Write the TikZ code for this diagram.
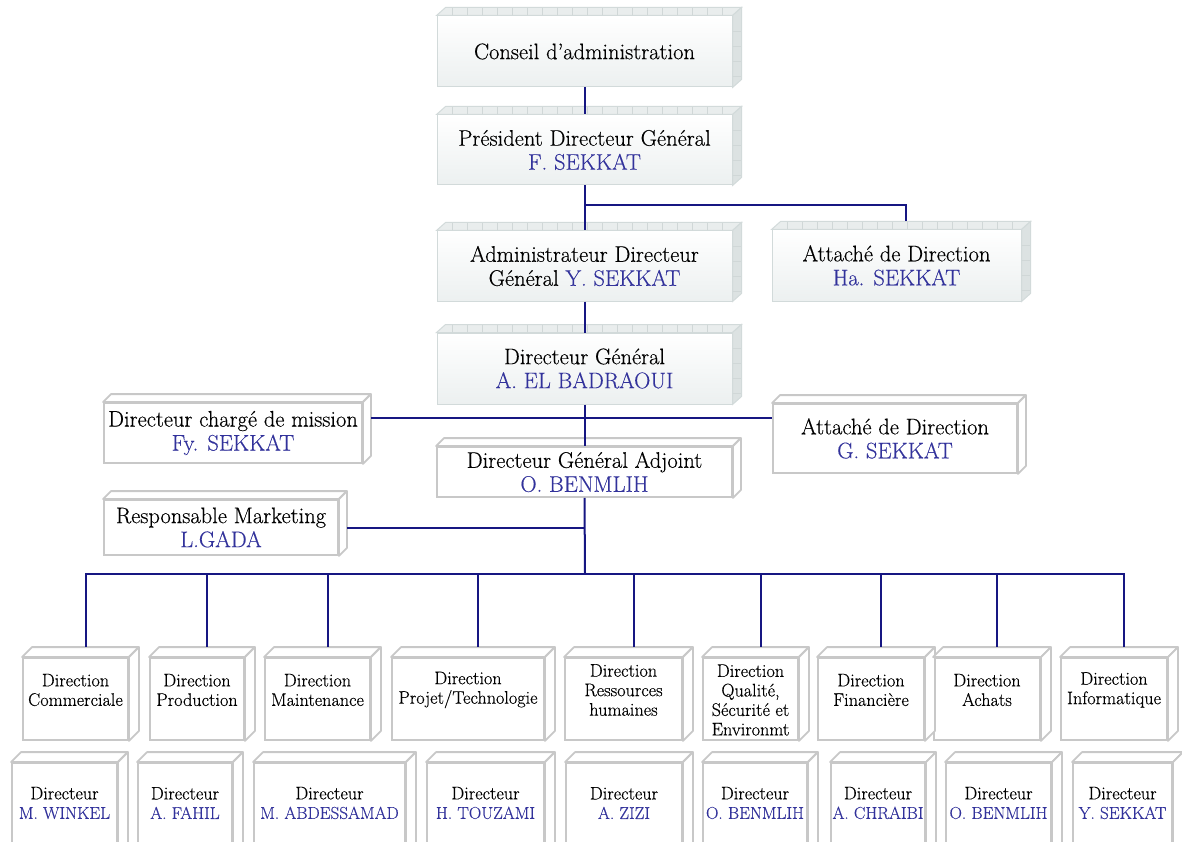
\documentclass[tikz,border=0pt]{standalone}
\usepackage{fontspec}
\setmainfont{Latin Modern Roman}[FakeBold=0.35]
\usetikzlibrary{calc}
\definecolor{navy}{RGB}{22,22,130}
\definecolor{namec}{RGB}{50,50,155}
\definecolor{gbord}{RGB}{200,200,200}
\definecolor{tbord}{RGB}{210,218,218}
\definecolor{tfill}{RGB}{236,240,240}
\definecolor{tface}{RGB}{233,237,237}
\definecolor{tside}{RGB}{220,226,226}
\definecolor{ttick}{RGB}{208,215,215}
\newcommand\nm[1]{\textcolor{namec}{#1}}
\newcommand\snm[1]{{\fontsize{17.2}{19.5}\selectfont\textcolor{namec}{#1}}}
\tikzset{
  conn/.style={draw=navy, line width=2pt},
  plainbox/.style={draw=gbord, line width=1.8pt, fill=white, rectangle, inner sep=0pt, align=center, font=\fontsize{22.5}{24}\selectfont},
  plainface/.style={draw=gbord, line width=1.8pt, fill=white, line join=round},
  topbox/.style={draw=tbord, line width=1pt, top color=white, bottom color=tfill, rectangle, inner sep=0pt, align=center, font=\fontsize{22.5}{24}\selectfont},
  toptop/.style={draw=tbord, line width=1pt, fill=tface},
  topside/.style={draw=tbord, line width=1pt, fill=tside},
  tick/.style={draw=ttick, line width=0.7pt},
  stxt/.style={align=center, font=\fontsize{18.2}{19.5}\selectfont, inner sep=0pt},
}
% box: style, name, x1, y1, x2, y2, content
\newcommand\mkbox[7]{\node[#1, minimum width={#5-#3}, minimum height={#6-#4}] (#2) at ({(#3+#5)/2},{(#4+#6)/2}) {#7};}
% faces: name, dx, dy, top style, side style
\newcommand\faces[5]{%
  \draw[#4] (#1.north west) -- ++(#2,-#3) -- ([shift={(#2,-#3)}]#1.north east) -- (#1.north east) -- cycle;
  \draw[#5] (#1.north east) -- ([shift={(#2,-#3)}]#1.north east) -- ([shift={(#2,-#3)}]#1.south east) -- (#1.south east) -- cycle;}
% top box with ticks: name, x1,y1,x2,y2, text
\newcommand\tbox[6]{%
  \mkbox{topbox}{#1}{#2}{#3}{#4}{#5}{#6}
  \faces{#1}{9}{8}{toptop}{topside}
  \pgfmathtruncatemacro\xa{#2+15}\pgfmathtruncatemacro\xb{#2+30}\pgfmathtruncatemacro\xe{#4}
  \foreach \xx in {\xa,\xb,...,\xe}{\draw[tick] (\xx,#3-0.6) -- ++(0,-7);}
  \pgfmathtruncatemacro\ya{#3+15}\pgfmathtruncatemacro\yb{#3+30}\pgfmathtruncatemacro\ye{#5-8}
  \foreach \yy in {\ya,\yb,...,\ye}{\draw[tick] (#4+0.6,\yy) -- ++(8,0);}
}
\begin{document}
\begin{tikzpicture}[x=1pt,y=-1pt]
\useasboundingbox (0,0) rectangle (1182,842);
\clip (0,0) rectangle (1182,842);
% ---------- top boxes ----------
\tbox{c1}{437}{16}{732}{87}{Conseil d'administration}
\tbox{p}{437}{115}{732}{185}{Président Directeur Général\\\nm{F. SEKKAT}}
\tbox{adg}{437}{231}{732}{301}{Administrateur Directeur\\Général \nm{Y. SEKKAT}}
\tbox{att1}{772}{230}{1021}{301}{Attaché de Direction\\\nm{Ha. SEKKAT}}
\tbox{dg}{437}{333}{732}{404}{Directeur Général\\\nm{A. EL BADRAOUI}}

% ---------- middle boxes ----------
\mkbox{plainbox}{dcm}{104}{403}{362}{463}{Directeur chargé de mission\\\nm{Fy. SEKKAT}}
\mkbox{plainbox}{att2}{773}{404}{1017}{473}{Attaché de Direction\\\nm{G. SEKKAT}}
\mkbox{plainbox}{dga}{437}{447}{732}{497}{Directeur Général Adjoint\\\nm{O. BENMLIH}}
\mkbox{plainbox}{rm}{104}{500}{338}{555}{Responsable Marketing\\\nm{L.GADA}}
\foreach \b in {dcm,att2,dga,rm}{\faces{\b}{8}{8}{plainface}{plainface}}

% ---------- direction row ----------
\mkbox{plainbox}{d1}{23}{658}{128}{740}{}
\mkbox{plainbox}{d2}{150}{658}{244}{740}{}
\mkbox{plainbox}{d3}{265}{658}{370}{740}{}
\mkbox{plainbox}{d4}{392}{658}{544}{740}{}
\mkbox{plainbox}{d5}{565}{658}{682}{740}{}
\mkbox{plainbox}{d6}{703}{658}{798}{740}{}
\mkbox{plainbox}{d7}{818}{658}{924}{740}{}
\mkbox{plainbox}{d8}{934}{658}{1040}{740}{}
\mkbox{plainbox}{d9}{1061}{658}{1167}{740}{}
\foreach \b in {d1,d2,d3,d4,d5,d6,d7,d8,d9}{\faces{\b}{10}{10}{plainface}{plainface}}
\node[stxt] (d1t) at ($(d1.center)+(0,-9)$) {Direction\\Commerciale};
\node[stxt] (d2t) at ($(d2.center)+(0,-9)$) {Direction\\Production};
\node[stxt] (d3t) at ($(d3.center)+(0,-9)$) {Direction\\Maintenance};
\node[stxt] (d4t) at ($(d4.center)+(0,-9)$) {Direction\\Projet/Technologie};
\node[stxt] (d5t) at ($(d5.center)+(0,-9)$) {Direction\\Ressources\\humaines};
\node[stxt] (d6t) at ($(d6.center)+(0,1)$) {Direction\\Qualité,\\Sécurité et\\Environmt};
\node[stxt] (d7t) at ($(d7.center)+(0,-9)$) {Direction\\Financière};
\node[stxt] (d8t) at ($(d8.center)+(0,-9)$) {Direction\\Achats};
\node[stxt] (d9t) at ($(d9.center)+(0,-9)$) {Direction\\Informatique};

% ---------- director row ----------
\mkbox{plainbox}{e1}{12}{763}{117}{870}{}
\mkbox{plainbox}{e2}{138}{763}{232}{870}{}
\mkbox{plainbox}{e3}{254}{763}{405}{870}{}
\mkbox{plainbox}{e4}{427}{763}{544}{870}{}
\mkbox{plainbox}{e5}{566}{763}{682}{870}{}
\mkbox{plainbox}{e6}{703}{763}{807}{870}{}
\mkbox{plainbox}{e7}{831}{763}{925}{870}{}
\mkbox{plainbox}{e8}{946}{763}{1051}{870}{}
\mkbox{plainbox}{e9}{1073}{763}{1172}{870}{}
\foreach \b in {e1,e2,e3,e4,e5,e6,e7,e8,e9}{\faces{\b}{10}{10}{plainface}{plainface}}
\node[stxt] (e1t) at (e1.north |- 0,803) {Directeur\\\snm{M. WINKEL}};
\node[stxt] (e2t) at (e2.north |- 0,803) {Directeur\\\snm{A. FAHIL}};
\node[stxt] (e3t) at (e3.north |- 0,803) {Directeur\\\snm{M. ABDESSAMAD}};
\node[stxt] (e4t) at (e4.north |- 0,803) {Directeur\\\snm{H. TOUZAMI}};
\node[stxt] (e5t) at (e5.north |- 0,803) {Directeur\\\snm{A. ZIZI}};
\node[stxt] (e6t) at (e6.north |- 0,803) {Directeur\\\snm{O. BENMLIH}};
\node[stxt] (e7t) at (e7.north |- 0,803) {Directeur\\\snm{A. CHRAIBI}};
\node[stxt] (e8t) at (e8.north |- 0,803) {Directeur\\\snm{O. BENMLIH}};
\node[stxt] (e9t) at (e9.north |- 0,803) {Directeur\\\snm{Y. SEKKAT}};

% ---------- connectors ----------
\coordinate (j1) at (585,205);
\coordinate (h) at (585,418);
\coordinate (bus) at (585,574);
\coordinate (att1top) at ([shift={(9,-8)}]att1.north);
\foreach \b in {d1,d2,d3,d4,d5,d6,d7,d8,d9}{\coordinate (\b top) at ([shift={(10,-10)}]\b.north);}
\draw[conn] (c1.south) -- (p.north);
\draw[conn] (p.south) -- (adg.north);
\draw[conn] (j1) -| (att1top);
\draw[conn] (adg.south) -- (dg.north);
\draw[conn] (dg.south) -- (dga.north);
\draw[conn] ([xshift=8pt]dcm.east |- h) -- (att2.west |- h);
\draw[conn] (dga.south) -- (bus);
\draw[conn] ([xshift=8pt]rm.east) -- (rm.east -| dga.south);
\draw[conn] (d1top) |- (d9top |- bus) -- (d9top);
\foreach \b in {d2,d3,d4,d5,d6,d7,d8}{\draw[conn] (bus -| \b top) -- (\b top);}
\end{tikzpicture}
\end{document}
